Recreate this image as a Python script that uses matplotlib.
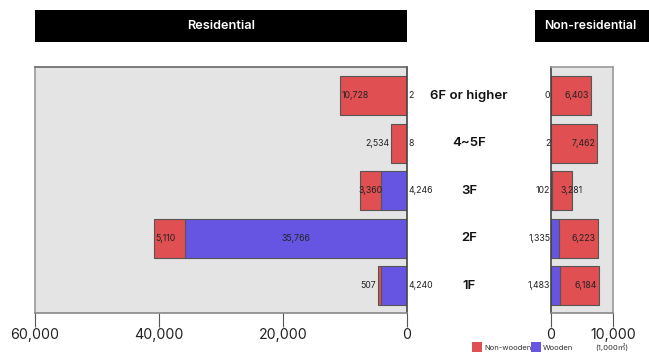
import matplotlib
matplotlib.use('Agg')
import matplotlib.pyplot as plt
from matplotlib.patches import Rectangle
import numpy as np

plt.rcParams['font.family'] = ['Inter', 'Noto Sans CJK KR', 'DejaVu Sans']

# floor-area by number of storeys (1,000 m2)
floors = ['6F or higher', '4~5F', '3F', '2F', '1F']
res_wooden = [2, 8, 4246, 35766, 4240]
res_nonwooden = [10728, 2534, 3360, 5110, 507]
nonres_wooden = [0, 2, 102, 1335, 1483]
nonres_nonwooden = [6403, 7462, 3281, 6223, 6184]

res_ticks = [60000, 40000, 20000, 0]
nonres_ticks = [0, 10000]

RED = '#e04f52'
BLUE = '#6655e3'
BG = '#e4e4e4'
EDGE = '#555555'

W, H = 649, 354
fig = plt.figure(figsize=(W / 100, H / 100), dpi=100)

def fx(px):
    return px / W

def fy(py):
    return 1 - py / H

top, bottom = 67, 313
ax1 = fig.add_axes([fx(35), fy(bottom), fx(372), (bottom - top) / H])
ax2 = fig.add_axes([fx(551), fy(bottom), fx(62), (bottom - top) / H])

y = np.arange(len(floors))
h = 0.82

fmt = lambda v: f'{v:,}'

# residential: wooden from 0 outward, non-wooden stacked on top
ax1.barh(y, res_wooden, height=h, color=BLUE, edgecolor=EDGE, linewidth=0.8)
ax1.barh(y, res_nonwooden, left=res_wooden, height=h, color=RED, edgecolor=EDGE, linewidth=0.8)
ax1.set_xlim(60000, 0)

ax2.barh(y, nonres_wooden, height=h, color=BLUE, edgecolor=EDGE, linewidth=0.8)
ax2.barh(y, nonres_nonwooden, left=nonres_wooden, height=h, color=RED, edgecolor=EDGE, linewidth=0.8)
ax2.set_xlim(0, 10000)

for ax in (ax1, ax2):
    ax.set_ylim(4.58, -0.61)
    ax.set_facecolor(BG)
    ax.set_yticks([])
    ax.tick_params(axis='x', direction='out', length=10, width=0.8, color='#555555',
                   labelsize=10.2, labelcolor='#222222', pad=0.5)
    for s in ax.spines.values():
        s.set_color('#999999')
        s.set_linewidth(1.2)
    ax.spines['bottom'].set_color('#888888')

ax1.spines['right'].set_color('#444444')
ax1.spines['top'].set_color('#666666')
ax2.spines['left'].set_color('#444444')

ax1.set_xticks(res_ticks)
ax1.set_xticklabels([fmt(t) for t in res_ticks])
ax2.set_xticks(nonres_ticks)
ax2.set_xticklabels([fmt(t) for t in nonres_ticks])

lab = dict(fontsize=6.3, color='#222222', va='center', annotation_clip=False)

# residential value labels
res_w_pos = ['edge', 'edge', 'edge', 'center', 'edge']
res_nw_pos = ['in', 'out', 'mid', 'in', 'out']
for i in range(len(floors)):
    w, nw = res_wooden[i], res_nonwooden[i]
    if res_w_pos[i] == 'center':
        ax1.annotate(fmt(w), (w / 2, i), ha='center', **lab)
    else:
        ax1.annotate(fmt(w), (0, i), xytext=(1, 0), textcoords='offset points', ha='left', **lab)
    end = w + nw
    if res_nw_pos[i] == 'in':
        ax1.annotate(fmt(nw), (end, i), xytext=(1, 0), textcoords='offset points', ha='left', **lab)
    elif res_nw_pos[i] == 'mid':
        ax1.annotate(fmt(nw), (w + nw / 2, i), ha='center', **lab)
    else:
        ax1.annotate(fmt(nw), (end, i), xytext=(-1, 0), textcoords='offset points', ha='right', **lab)

# non-residential value labels
nonres_nw_pos = ['in', 'in', 'end', 'in', 'in']
for i in range(len(floors)):
    w, nw = nonres_wooden[i], nonres_nonwooden[i]
    ax2.annotate(fmt(w), (0, i), xytext=(-0.5, 0), textcoords='offset points', ha='right', **lab)
    end = w + nw
    if nonres_nw_pos[i] == 'end':
        ax2.annotate(fmt(nw), (end, i), ha='center', **lab)
    else:
        ax2.annotate(fmt(nw), (end, i), xytext=(-1.5, 0), textcoords='offset points', ha='right', **lab)

# floor names in the gap between the panels
for i, name in enumerate(floors):
    ax1.annotate(name, (0, i), xytext=((469 - 407) * 0.72, 0), textcoords='offset points',
                 ha='center', va='center', fontsize=9.5, fontweight='semibold',
                 color='#111111', annotation_clip=False)

# header bars
fig.patches.append(Rectangle((fx(35), fy(42)), fx(372), 32 / H, transform=fig.transFigure,
                             facecolor='black', edgecolor='none'))
fig.text(fx(221), fy(26), 'Residential', color='white', ha='center', va='center',
         fontsize=9.2, fontweight='semibold')
fig.patches.append(Rectangle((fx(535), fy(42)), fx(114), 32 / H, transform=fig.transFigure,
                             facecolor='black', edgecolor='none'))
fig.text(fx(590), fy(26), 'Non-residential', color='white', ha='center', va='center',
         fontsize=8.8, fontweight='semibold')

# legend and unit
fig.patches.append(Rectangle((fx(472), fy(352)), fx(10), 10 / H, transform=fig.transFigure,
                             facecolor=RED, edgecolor='none'))
fig.text(fx(484), fy(347.5), 'Non-wooden', fontsize=5.5, color='#333333', va='center', ha='left')
fig.patches.append(Rectangle((fx(531), fy(352)), fx(10), 10 / H, transform=fig.transFigure,
                             facecolor=BLUE, edgecolor='none'))
fig.text(fx(543), fy(347.5), 'Wooden', fontsize=5.5, color='#333333', va='center', ha='left')
fig.text(fx(612), fy(347.5), '(1,000㎡)', fontsize=5.5, color='#333333', va='center', ha='center')

fig.savefig('out.png', dpi=100)
